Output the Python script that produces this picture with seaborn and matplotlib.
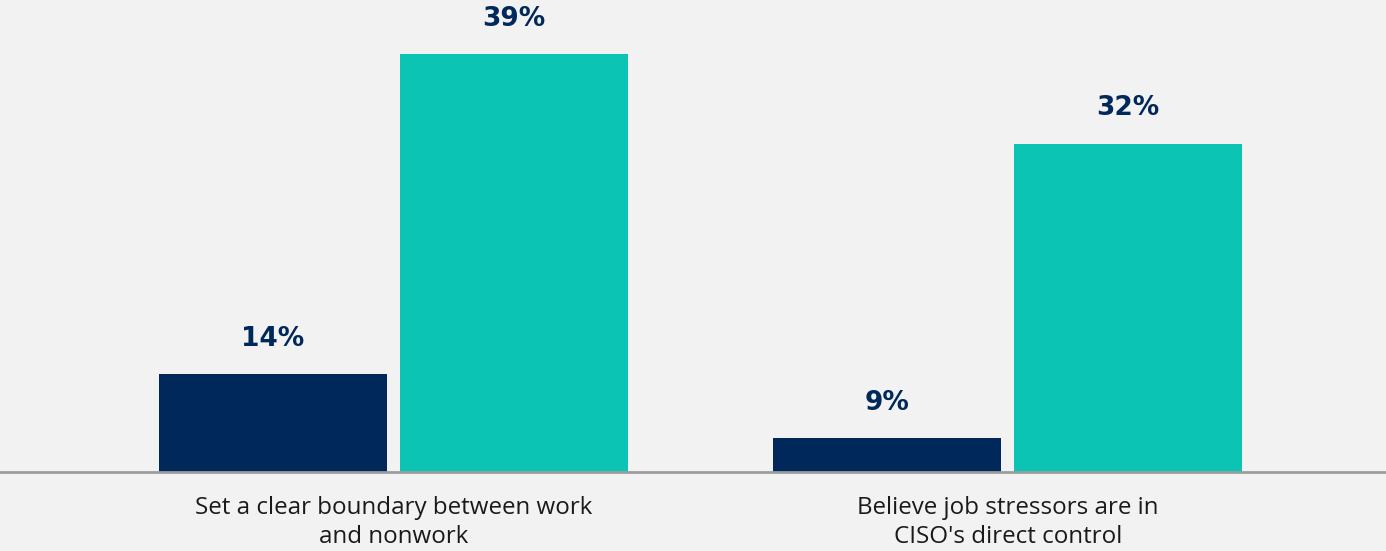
import matplotlib
matplotlib.use("Agg")
import matplotlib.pyplot as plt
import seaborn as sns
import pandas as pd

categories = ["Set a clear boundary between work\nand nonwork",
              "Believe job stressors are in\nCISO's direct control"]
groups = ["Group A", "Group B"]
values_a = [14, 9]
values_b = [39, 32]
labels_a = ["14%", "9%"]
labels_b = ["39%", "32%"]

navy = "#00285a"
teal = "#0bc4b3"
bg = "#f2f2f2"

rows = []
for c, va, vb in zip(categories, values_a, values_b):
    rows.append({"category": c, "group": groups[0], "value": va})
    rows.append({"category": c, "group": groups[1], "value": vb})
df = pd.DataFrame(rows)

sns.set_theme(style="white")
plt.rcParams["font.family"] = ["Open Sans", "DejaVu Sans"]

fig = plt.figure(figsize=(13.86, 5.51), dpi=100, facecolor=bg)
ax = fig.add_axes([0, 79 / 551, 1, (472 - 15.6) / 551])
ax.set_facecolor(bg)

sns.barplot(data=df, x="category", y="value", hue="group",
            palette=[navy, teal], width=0.785, gap=0.054,
            saturation=1, legend=False, ax=ax, edgecolor="none")

ymin = 6.34
ax.set_ylim(ymin, 42)
ax.set_xlim(-0.641, 1.616)

for cont, labs in zip(ax.containers, [labels_a, labels_b]):
    for bar, lab in zip(cont, labs):
        ax.annotate(lab, (bar.get_x() + bar.get_width() / 2, bar.get_height()),
                    xytext=(0, 16), textcoords="offset points",
                    ha="center", va="bottom", fontsize=19, fontweight="bold",
                    color=navy, family=["DejaVu Sans"])

for s in ["top", "right", "left"]:
    ax.spines[s].set_visible(False)
ax.spines["bottom"].set_color("#9a9e9e")
ax.spines["bottom"].set_linewidth(2)
ax.set_yticks([])
ax.set_xlabel("")
ax.set_ylabel("")
ax.tick_params(axis="x", length=0, pad=17, labelsize=17.4, labelcolor="#1a1a1a")
for t in ax.get_xticklabels():
    t.set_linespacing(1.32)

fig.savefig("out.png", dpi=100, facecolor=bg)
